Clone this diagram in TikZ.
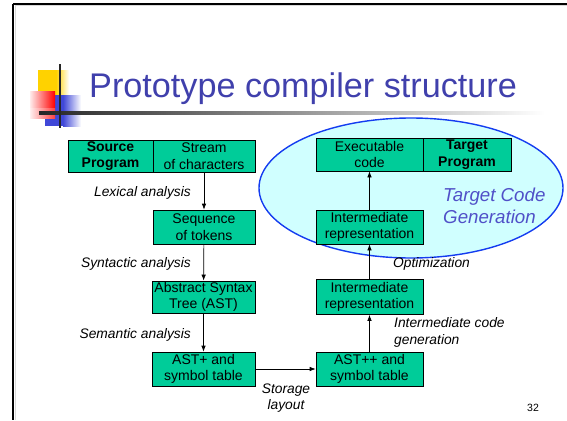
\documentclass[tikz,border=0pt]{standalone}
\usepackage{fontspec}
\setmainfont{Liberation Sans}
\usetikzlibrary{arrows.meta,shapes.geometric}
\definecolor{boxgreen}{RGB}{0,204,153}
\definecolor{ellfill}{RGB}{208,255,255}
\definecolor{elldraw}{RGB}{20,60,240}
\definecolor{titleblue}{RGB}{64,64,172}
\definecolor{tcgblue}{RGB}{80,80,200}
\definecolor{logoyellow}{RGB}{255,210,0}
\definecolor{logoblue}{RGB}{64,72,216}
\tikzset{
  stage/.style={draw=black, line width=0.7pt, fill=boxgreen, inner sep=0pt, align=center,
    font=\fontsize{14}{16.5}\selectfont},
  boldstage/.style={stage, font=\fontsize{14}{16.5}\selectfont\bfseries},
  lbl/.style={font=\fontsize{13.8}{16.5}\selectfont\itshape, inner sep=0pt},
  arr/.style={-{Latex[length=6pt,width=4.5pt]}, line width=0.7pt},
}
\begin{document}
\begin{tikzpicture}[x=1pt,y=-1pt]
\useasboundingbox (0,0) rectangle (567,420);
% slide frame
\draw[black!15, line width=1pt] (15,6) -- (567,6);
\draw[black!15, line width=1pt] (15,6) -- (15,420);
\draw[line width=1.3pt] (13,4) -- (567,4);
\draw[line width=1.3pt] (13,4) -- (13,420);
% logo
\shade[left color=logoyellow, right color=white] (56,70) rectangle (69,95);
\fill[logoyellow] (38,70) rectangle (56.5,95);
\shade[left color=logoblue, right color=white] (63,95) rectangle (81,126);
\fill[logoblue] (45,95) rectangle (63.5,126);
\shade[left color=red!8, right color=red] (30,91) rectangle (55,118);
\shade[top color=white, bottom color=white, middle color=white, opacity=0.25] (30,108) rectangle (55,118);
\shade[left color=black!85, right color=white] (39,111.5) rectangle (545,114.5);
\draw[black!85, line width=2pt] (60,64) -- (60,128);
% title
\node[anchor=base west, inner sep=0pt, text=titleblue, font=\fontsize{34.2}{36}\selectfont] (title) at (89,97.5) {Prototype compiler structure};
% ellipse
\node[ellipse, draw=elldraw, fill=ellfill, line width=1.4pt, minimum width=304, minimum height=140, inner sep=0pt] (ell) at (411,188) {};
% boxes left column
\node[boldstage, minimum width=85, minimum height=32] (src) at (110.5,156) {Source\\Program};
\node[stage, minimum width=102, minimum height=32] (stream) at (204,156) {Stream\\of characters};
\node[stage, minimum width=102, minimum height=34] (seq) at (204,227) {Sequence\\of tokens};
\node[stage, minimum width=103, minimum height=32] (ast) at (203.5,297) {Abstract Syntax\\Tree (AST)};
\node[stage, minimum width=103, minimum height=34] (astp) at (203.5,369) {AST+ and\\symbol table};
% boxes right column
\node[stage, minimum width=107, minimum height=33] (exe) at (369.5,154.5) {Executable\\code};
\node[boldstage, minimum width=88, minimum height=33] (tgt) at (467,154.5) {Target\\Program};
\node[stage, minimum width=107, minimum height=34] (ir1) at (369.5,227) {Intermediate\\representation};
\node[stage, minimum width=107, minimum height=35] (ir2) at (369.5,297) {Intermediate\\representation};
\node[stage, minimum width=107, minimum height=34] (astpp) at (369.5,369) {AST++ and\\symbol table};
% arrows
\draw[arr] (stream) -- (seq);
\draw[arr] (seq) -- (ast);
\draw[arr] (ast) -- (astp);
\draw[arr] (astp) -- (astpp);
\draw[arr] (astpp) -- (ir2);
\draw[arr] (ir2) -- (ir1);
\draw[arr] (ir1) -- (exe);
% labels
\node[lbl, anchor=east] (lex) at (191,193) {Lexical analysis};
\node[lbl, anchor=east] (syn) at (191,264) {Syntactic analysis};
\node[lbl, anchor=east] (sem) at (191,335) {Semantic analysis};
\node[lbl, align=center] (stor) at (286,398) {Storage\\layout};
\node[lbl, anchor=west] (opt) at (393,264) {Optimization};
\node[lbl, anchor=west, align=left] (icg) at (394,332.5) {Intermediate code\\generation};
\node[anchor=west, inner sep=0pt, align=left, text=tcgblue, font=\fontsize{18.7}{21.5}\selectfont\itshape] (tcg) at (443,206) {Target Code\\Generation};
\node[inner sep=0pt, font=\fontsize{10.5}{12}\selectfont] (pg) at (533,408) {32};
\end{tikzpicture}
\end{document}
